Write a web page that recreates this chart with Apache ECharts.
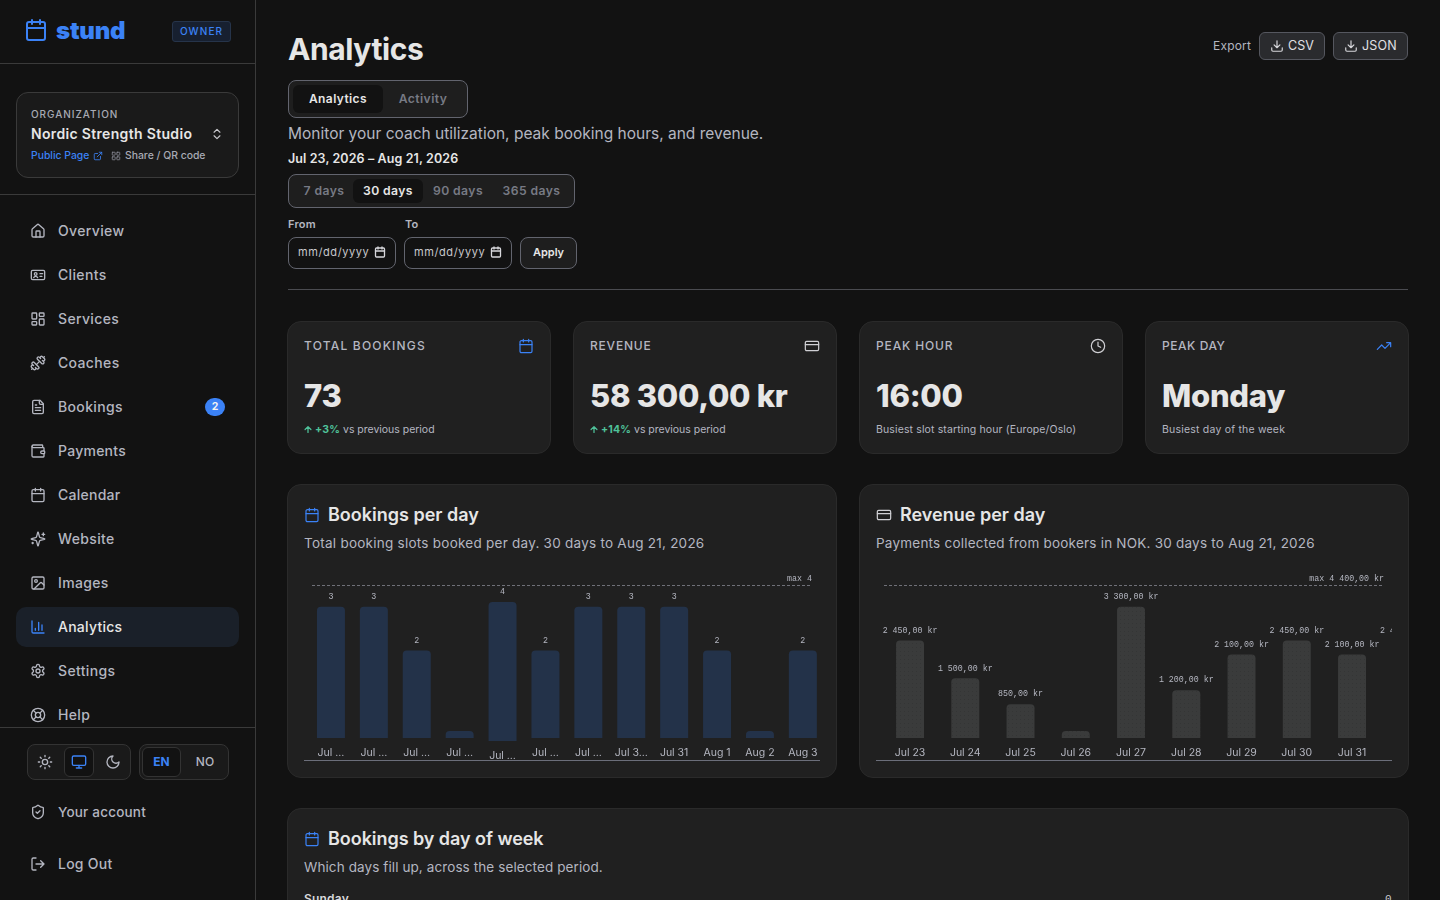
<!DOCTYPE html>
<html lang="en"><head><meta charset="utf-8"><title>Analytics</title>
<script src="https://cdn.jsdelivr.net/npm/echarts@6/dist/echarts.min.js"></script>
<style>
*{box-sizing:border-box}
html,body{margin:0;width:1440px;height:900px;overflow:hidden;background:#121212;font-family:Inter,sans-serif;color:#e8e8e8}
.b{position:absolute}
.t{position:absolute;white-space:nowrap;line-height:20px;height:20px}
svg.i{position:absolute;fill:none;stroke:currentColor;stroke-width:2;stroke-linecap:round;stroke-linejoin:round}
.nav{font-size:14px;letter-spacing:.35px;color:#b4b6c0;font-weight:500}
.card{position:absolute;background:#202020;border:1px solid #2a2a2a;border-radius:14px}
.lbl{font-size:12px;letter-spacing:1px;color:#b4b6c0;font-weight:500}
.val{font-size:31px;font-weight:800;color:#e6e6e6;line-height:36px;height:36px;letter-spacing:-.28px}
.sub{font-size:10.5px;color:#b4b6c0;letter-spacing:.06px}
.up{color:#4fc29a;font-weight:700;font-size:10.5px;letter-spacing:.2px}
.h2{font-size:18px;font-weight:600;color:#e6e6e6;letter-spacing:0}
.p{font-size:13.5px;color:#b4b6c0;letter-spacing:.25px}
.seg{color:#777a84;font-size:12.2px;font-weight:600;letter-spacing:.4px}
.chart{position:absolute;top:555px;width:516px;height:206px;border-bottom:1px solid #6b6e7a}
.chart>div{width:516px;height:205px}
</style></head><body>
<svg width="0" height="0" style="position:absolute"><defs>
<symbol id="cal" viewBox="0 0 24 24"><path d="M8 2v4M16 2v4"/><rect x="3" y="4" width="18" height="18" rx="2"/><path d="M3 10h18"/></symbol>
<symbol id="home" viewBox="0 0 24 24"><path d="M15 21v-8a1 1 0 0 0-1-1h-4a1 1 0 0 0-1 1v8"/><path d="M3 10a2 2 0 0 1 .7-1.5l7-6a2 2 0 0 1 2.6 0l7 6A2 2 0 0 1 21 10v9a2 2 0 0 1-2 2H5a2 2 0 0 1-2-2z"/></symbol>
<symbol id="id" viewBox="0 0 24 24"><rect x="2" y="5" width="20" height="14" rx="2"/><circle cx="8.5" cy="10.5" r="2"/><path d="M5.5 16c.5-1.5 1.500-2 3-2s2.500.5 3 2M15 10h4M15 14h3"/></symbol>
<symbol id="grid" viewBox="0 0 24 24"><rect x="3" y="3" width="7" height="9" rx="1"/><rect x="14" y="3" width="7" height="5" rx="1"/><rect x="14" y="12" width="7" height="9" rx="1"/><rect x="3" y="16" width="7" height="5" rx="1"/></symbol>
<symbol id="dumb" viewBox="0 0 24 24"><path d="M17.596 12.768a2 2 0 1 0 2.829-2.829l-1.768-1.767a2 2 0 0 0 2.828-2.829l-2.828-2.828a2 2 0 0 0-2.829 2.828l-1.767-1.768a2 2 0 1 0-2.829 2.829z"/><path d="m2.5 21.500 1.400-1.400M20.100 3.900l1.400-1.400"/><path d="M5.343 21.485a2 2 0 1 0 2.829-2.828l1.767 1.768a2 2 0 1 0 2.829-2.829l-6.364-6.364a2 2 0 1 0-2.829 2.829l1.768 1.767a2 2 0 0 0-2.828 2.829z"/><path d="m9.600 14.400 4.800-4.800"/></symbol>
<symbol id="file" viewBox="0 0 24 24"><path d="M15 2H6a2 2 0 0 0-2 2v16a2 2 0 0 0 2 2h12a2 2 0 0 0 2-2V7z"/><path d="M14 2v4a2 2 0 0 0 2 2h4M10 9H8M16 13H8M16 17H8"/></symbol>
<symbol id="wal" viewBox="0 0 24 24"><path d="M19 7V4a1 1 0 0 0-1-1H5a2 2 0 0 0 0 4h15a1 1 0 0 1 1 1v4h-3a2 2 0 0 0 0 4h3a1 1 0 0 0 1-1v-2a1 1 0 0 0-1-1"/><path d="M3 5v14a2 2 0 0 0 2 2h15a1 1 0 0 0 1-1v-4"/></symbol>
<symbol id="spark" viewBox="0 0 24 24"><path d="M9.900 15.500A2 2 0 0 0 8.500 14.100l-6.100-1.600a.5.5 0 0 1 0-1l6.100-1.600A2 2 0 0 0 9.900 8.500l1.600-6.100a.5.5 0 0 1 1 0l1.600 6.100a2 2 0 0 0 1.400 1.400l6.100 1.600a.5.5 0 0 1 0 1l-6.100 1.600a2 2 0 0 0-1.400 1.400l-1.600 6.100a.5.5 0 0 1-1 0z"/><path d="M20 3v4M22 5h-4M4 17v2M5 18H3"/></symbol>
<symbol id="img" viewBox="0 0 24 24"><rect x="3" y="3" width="18" height="18" rx="2"/><circle cx="9" cy="9" r="2"/><path d="m21 15-3.100-3.100a2 2 0 0 0-2.800 0L6 21"/></symbol>
<symbol id="bars" viewBox="0 0 24 24"><path d="M3 3v16a2 2 0 0 0 2 2h16M18 17V9M13 17V5M8 17v-3"/></symbol>
<symbol id="gear" viewBox="0 0 24 24"><path d="M12.200 2h-.4a2 2 0 0 0-2 2v.2a2 2 0 0 1-1 1.700l-.4.300a2 2 0 0 1-2 0l-.2-.1a2 2 0 0 0-2.700.7l-.2.400a2 2 0 0 0 .7 2.700l.2.100a2 2 0 0 1 1 1.700v.5a2 2 0 0 1-1 1.700l-.2.100a2 2 0 0 0-.7 2.700l.2.400a2 2 0 0 0 2.700.7l.2-.1a2 2 0 0 1 2 0l.4.300a2 2 0 0 1 1 1.700v.2a2 2 0 0 0 2 2h.4a2 2 0 0 0 2-2v-.2a2 2 0 0 1 1-1.700l.4-.3a2 2 0 0 1 2 0l.2.100a2 2 0 0 0 2.700-.7l.2-.4a2 2 0 0 0-.7-2.700l-.2-.1a2 2 0 0 1-1-1.700v-.5a2 2 0 0 1 1-1.700l.2-.1a2 2 0 0 0 .7-2.700l-.2-.4a2 2 0 0 0-2.700-.7l-.2.100a2 2 0 0 1-2 0l-.4-.3a2 2 0 0 1-1-1.700V4a2 2 0 0 0-2-2z"/><circle cx="12" cy="12" r="3"/></symbol>
<symbol id="help" viewBox="0 0 24 24"><circle cx="12" cy="12" r="10"/><circle cx="12" cy="12" r="4"/><path d="m4.900 4.900 4.300 4.300M14.800 14.800l4.300 4.300M14.800 9.200l4.300-4.300M4.900 19.100l4.300-4.300"/></symbol>
<symbol id="sun" viewBox="0 0 24 24"><circle cx="12" cy="12" r="4"/><path d="M12 2v2M12 20v2M4.900 4.900l1.400 1.400M17.700 17.700l1.400 1.400M2 12h2M20 12h2M6.300 17.700l-1.400 1.400M19.100 4.900l-1.400 1.400"/></symbol>
<symbol id="mon" viewBox="0 0 24 24"><rect x="2" y="3" width="20" height="14" rx="2"/><path d="M8 21h8M12 17v4"/></symbol>
<symbol id="moon" viewBox="0 0 24 24"><path d="M12 3a6 6 0 0 0 9 9 9 9 0 1 1-9-9Z"/></symbol>
<symbol id="shield" viewBox="0 0 24 24"><path d="M20 13c0 5-3.500 7.500-7.700 9a1 1 0 0 1-.6 0C7.500 20.500 4 18 4 13V6a1 1 0 0 1 1-1c2 0 4.500-1.200 6.200-2.700a1.200 1.200 0 0 1 1.600 0C14.500 3.800 17 5 19 5a1 1 0 0 1 1 1z"/><path d="m9 12 2 2 4-4"/></symbol>
<symbol id="out" viewBox="0 0 24 24"><path d="M9 21H5a2 2 0 0 1-2-2V5a2 2 0 0 1 2-2h4M16 17l5-5-5-5M21 12H9"/></symbol>
<symbol id="card" viewBox="0 0 24 24"><rect x="2" y="5" width="20" height="14" rx="2"/><path d="M2 10h20"/></symbol>
<symbol id="clock" viewBox="0 0 24 24"><circle cx="12" cy="12" r="10"/><path d="M12 6v6l4 2"/></symbol>
<symbol id="trend" viewBox="0 0 24 24"><path d="M22 7l-8.500 8.500-5-5L2 17M16 7h6v6"/></symbol>
<symbol id="dl" viewBox="0 0 24 24"><path d="M12 15V3M21 15v4a2 2 0 0 1-2 2H5a2 2 0 0 1-2-2v-4M7 10l5 5 5-5"/></symbol>
<symbol id="ext" viewBox="0 0 24 24"><path d="M15 3h6v6M10 14 21 3M18 13v6a2 2 0 0 1-2 2H5a2 2 0 0 1-2-2V8a2 2 0 0 1 2-2h6"/></symbol>
<symbol id="qr" viewBox="0 0 24 24"><rect x="3" y="3" width="7" height="7" rx="1"/><rect x="14" y="3" width="7" height="7" rx="1"/><rect x="3" y="14" width="7" height="7" rx="1"/><rect x="14" y="14" width="7" height="7" rx="1"/></symbol>
<symbol id="ud" viewBox="0 0 24 24"><path d="m7 15 5 5 5-5M7 9l5-5 5 5"/></symbol>
<symbol id="arr" viewBox="0 0 24 24"><path d="m5 12 7-7 7 7M12 19V5"/></symbol>
</defs></svg>

<!-- sidebar -->
<div class="b" style="left:0;top:0;width:256px;height:900px;border-right:1px solid #3a3a3a;background:#121212"></div>
<svg class="i" style="left:24px;top:18px;width:24px;height:24px;color:#3b82f6;stroke-width:2"><use href="#cal"/></svg>
<div class="t" style="left:56px;top:21px;font-size:24px;font-weight:900;color:#3b82f6;letter-spacing:-.2px">stund</div>
<div class="b" style="left:172px;top:21px;width:59px;height:21px;background:#172030;border:1px solid #26344a;border-radius:3px"></div>
<div class="t" style="left:172px;top:21px;width:59px;text-align:center;font-size:10px;font-weight:500;letter-spacing:1.1px;color:#3b82f6">OWNER</div>
<div class="b" style="left:0;top:63px;width:255px;height:1px;background:#3a3a3a"></div>
<div class="b" style="left:16px;top:92px;width:223px;height:86px;background:#1a1a1a;border:1px solid #3a3a3a;border-radius:12px"></div>
<div class="t" style="left:31px;top:104px;font-size:10px;letter-spacing:.95px;color:#a8aab4;font-weight:500">ORGANIZATION</div>
<div class="t" style="left:31px;top:124px;font-size:14px;font-weight:600;letter-spacing:.33px;color:#e6e6e6">Nordic Strength Studio</div>
<svg class="i" style="left:210px;top:127px;width:14px;height:14px;color:#c8c8cc"><use href="#ud"/></svg>
<div class="t" style="left:31px;top:146px;font-size:10.4px;color:#3b82f6;font-weight:500">Public Page</div>
<svg class="i" style="left:93px;top:151px;width:10px;height:10px;color:#3b82f6"><use href="#ext"/></svg>
<svg class="i" style="left:111px;top:151px;width:10px;height:10px;color:#8a8c96"><use href="#qr"/></svg>
<div class="t" style="left:125px;top:146px;font-size:10.4px;color:#a8aab4;font-weight:500">Share / QR code</div>
<div class="b" style="left:0;top:194px;width:255px;height:1px;background:#3a3a3a"></div>

<div class="b" style="left:16px;top:607px;width:223px;height:40px;background:#1a2029;border-radius:10px"></div>
<svg class="i nav" style="left:30px;top:223px;width:16px;height:16px"><use href="#home"/></svg><div class="t nav" style="left:58px;top:221px">Overview</div>
<svg class="i nav" style="left:30px;top:267px;width:16px;height:16px"><use href="#id"/></svg><div class="t nav" style="left:58px;top:265px">Clients</div>
<svg class="i nav" style="left:30px;top:311px;width:16px;height:16px"><use href="#grid"/></svg><div class="t nav" style="left:58px;top:309px">Services</div>
<svg class="i nav" style="left:30px;top:355px;width:16px;height:16px"><use href="#dumb"/></svg><div class="t nav" style="left:58px;top:353px">Coaches</div>
<svg class="i nav" style="left:30px;top:399px;width:16px;height:16px"><use href="#file"/></svg><div class="t nav" style="left:58px;top:397px">Bookings</div>
<div class="b" style="left:205px;top:398px;width:20px;height:18px;border-radius:9px;background:#3b82f6"></div><div class="t" style="left:205px;top:397px;width:20px;text-align:center;font-size:10.5px;font-weight:700;color:#f2f2f2">2</div>
<svg class="i nav" style="left:30px;top:443px;width:16px;height:16px"><use href="#wal"/></svg><div class="t nav" style="left:58px;top:441px;letter-spacing:.25px">Payments</div>
<svg class="i nav" style="left:30px;top:487px;width:16px;height:16px"><use href="#cal"/></svg><div class="t nav" style="left:58px;top:485px;letter-spacing:.25px">Calendar</div>
<svg class="i nav" style="left:30px;top:531px;width:16px;height:16px"><use href="#spark"/></svg><div class="t nav" style="left:58px;top:529px">Website</div>
<svg class="i nav" style="left:30px;top:575px;width:16px;height:16px"><use href="#img"/></svg><div class="t nav" style="left:58px;top:573px">Images</div>
<svg class="i nav" style="left:30px;top:619px;width:16px;height:16px;color:#3b82f6"><use href="#bars"/></svg><div class="t nav" style="left:58px;top:617px;color:#e6e6e6;letter-spacing:.25px">Analytics</div>
<svg class="i nav" style="left:30px;top:663px;width:16px;height:16px"><use href="#gear"/></svg><div class="t nav" style="left:58px;top:661px">Settings</div>
<svg class="i nav" style="left:30px;top:707px;width:16px;height:16px"><use href="#help"/></svg><div class="t nav" style="left:58px;top:705px">Help</div>

<div class="b" style="left:0;top:727px;width:255px;height:1px;background:#3a3a3a"></div>
<div class="b" style="left:27px;top:744px;width:104px;height:36px;background:#1a1a1a;border:1px solid #333;border-radius:8px"></div>
<div class="b" style="left:64px;top:747px;width:30px;height:30px;background:#121212;border:1px solid #333;border-radius:6px"></div>
<svg class="i nav" style="left:37px;top:754px;width:16px;height:16px"><use href="#sun"/></svg>
<svg class="i" style="left:71px;top:754px;width:16px;height:16px;color:#3b82f6"><use href="#mon"/></svg>
<svg class="i nav" style="left:105px;top:754px;width:16px;height:16px"><use href="#moon"/></svg>
<div class="b" style="left:139px;top:744px;width:90px;height:36px;background:#1a1a1a;border:1px solid #333;border-radius:8px"></div>
<div class="b" style="left:142px;top:747px;width:39px;height:30px;background:#121212;border:1px solid #333;border-radius:6px"></div>
<div class="t" style="left:142px;top:752px;width:39px;text-align:center;font-size:12px;font-weight:700;color:#3b82f6">EN</div>
<div class="t" style="left:185px;top:752px;width:40px;text-align:center;font-size:12px;font-weight:500;color:#b4b6c0">NO</div>
<svg class="i nav" style="left:30px;top:804px;width:16px;height:16px"><use href="#shield"/></svg><div class="t nav" style="left:58px;top:802px;font-size:13.5px;letter-spacing:.2px">Your account</div>
<svg class="i nav" style="left:30px;top:856px;width:16px;height:16px"><use href="#out"/></svg><div class="t nav" style="left:58px;top:854px;letter-spacing:.25px">Log Out</div>

<!-- header -->
<div class="t" style="left:288px;top:39px;font-size:30px;font-weight:700;color:#e6e6e6;letter-spacing:-.4px">Analytics</div>
<div class="t" style="left:1213px;top:36px;font-size:12px;color:#b4b6c0;letter-spacing:.2px">Export</div>
<div class="b" style="left:1259px;top:32px;width:66px;height:28px;background:#2a2b2e;border:1px solid #55575f;border-radius:6px"></div>
<svg class="i" style="left:1270px;top:39px;width:14px;height:14px;color:#d8d8dc"><use href="#dl"/></svg>
<div class="t" style="left:1288px;top:36px;font-size:12.5px;font-weight:400;color:#e0e0e4">CSV</div>
<div class="b" style="left:1333px;top:32px;width:75px;height:28px;background:#2a2b2e;border:1px solid #55575f;border-radius:6px"></div>
<svg class="i" style="left:1344px;top:39px;width:14px;height:14px;color:#d8d8dc"><use href="#dl"/></svg>
<div class="t" style="left:1362px;top:36px;font-size:12.5px;font-weight:400;color:#e0e0e4;letter-spacing:.2px">JSON</div>

<div class="b" style="left:288px;top:80px;width:180px;height:38px;background:#1e1e1e;border:1px solid #62646e;border-radius:8px"></div>
<div class="b" style="left:293px;top:85px;width:90px;height:28px;background:#121212;border-radius:6px"></div>
<div class="t" style="left:293px;top:89px;width:90px;text-align:center;font-size:12px;font-weight:600;color:#e6e6e6;letter-spacing:.4px">Analytics</div>
<div class="t seg" style="left:383px;top:89px;width:80px;text-align:center">Activity</div>
<div class="t" style="left:288px;top:124px;font-size:15.5px;color:#b4b6c0">Monitor your coach utilization, peak booking hours, and revenue.</div>
<div class="t" style="left:288px;top:149px;font-size:12.5px;font-weight:600;color:#e6e6e6;letter-spacing:.1px">Jul 23, 2026 – Aug 21, 2026</div>
<div class="b" style="left:288px;top:174px;width:287px;height:34px;background:#1e1e1e;border:1px solid #62646e;border-radius:8px"></div>
<div class="b" style="left:353px;top:179px;width:70px;height:24px;background:#121212;border-radius:6px"></div>
<div class="t seg" style="left:294px;top:181px;width:60px;text-align:center">7 days</div>
<div class="t seg" style="left:353px;top:181px;width:70px;text-align:center;color:#e6e6e6">30 days</div>
<div class="t seg" style="left:423px;top:181px;width:70px;text-align:center">90 days</div>
<div class="t seg" style="left:493px;top:181px;width:77px;text-align:center">365 days</div>
<div class="t" style="left:288px;top:214px;font-size:11px;font-weight:600;color:#b4b6c0;letter-spacing:.2px">From</div>
<div class="t" style="left:405px;top:214px;font-size:11px;font-weight:600;color:#b4b6c0;letter-spacing:.2px">To</div>
<div class="b" style="left:288px;top:237px;width:108px;height:32px;background:#121212;border:1px solid #62646e;border-radius:8px"></div>
<div class="t" style="left:298px;top:242px;font-size:11px;color:#c8c8cc;letter-spacing:.6px">mm/dd/yyyy</div>
<svg class="i" style="left:374px;top:246px;width:12px;height:12px;color:#d8d8dc;stroke-width:2.6"><use href="#cal"/></svg>
<div class="b" style="left:404px;top:237px;width:108px;height:32px;background:#121212;border:1px solid #62646e;border-radius:8px"></div>
<div class="t" style="left:414px;top:242px;font-size:11px;color:#c8c8cc;letter-spacing:.6px">mm/dd/yyyy</div>
<svg class="i" style="left:490px;top:246px;width:12px;height:12px;color:#d8d8dc;stroke-width:2.6"><use href="#cal"/></svg>
<div class="b" style="left:520px;top:237px;width:57px;height:32px;background:#1e1e1e;border:1px solid #62646e;border-radius:8px"></div>
<div class="t" style="left:520px;top:242px;width:57px;text-align:center;font-size:11px;font-weight:600;color:#e6e6e6">Apply</div>
<div class="b" style="left:288px;top:289px;width:1120px;height:1px;background:#4a4b50"></div>

<!-- stat cards -->
<div class="card" style="left:287px;top:321px;width:264px;height:133px"></div>
<div class="card" style="left:573px;top:321px;width:264px;height:133px"></div>
<div class="card" style="left:859px;top:321px;width:264px;height:133px"></div>
<div class="card" style="left:1145px;top:321px;width:264px;height:133px"></div>
<div class="t lbl" style="left:304px;top:336px;letter-spacing:1.2px">TOTAL BOOKINGS</div>
<div class="t lbl" style="left:590px;top:336px;letter-spacing:.8px">REVENUE</div>
<div class="t lbl" style="left:876px;top:336px;letter-spacing:.85px">PEAK HOUR</div>
<div class="t lbl" style="left:1162px;top:336px;letter-spacing:.55px">PEAK DAY</div>
<svg class="i" style="left:518px;top:338px;width:16px;height:16px;color:#3b82f6;stroke-width:1.8"><use href="#cal"/></svg>
<svg class="i" style="left:804px;top:338px;width:16px;height:16px;color:#d0d0d4;stroke-width:1.8"><use href="#card"/></svg>
<svg class="i" style="left:1090px;top:338px;width:16px;height:16px;color:#d0d0d4;stroke-width:1.8"><use href="#clock"/></svg>
<svg class="i" style="left:1376px;top:338px;width:16px;height:16px;color:#3b82f6;stroke-width:1.8"><use href="#trend"/></svg>
<div class="t val" style="left:304px;top:378px">73</div>
<div class="t val" style="left:590px;top:378px">58 300,00 kr</div>
<div class="t val" style="left:876px;top:378px">16:00</div>
<div class="t val" style="left:1162px;top:378px">Monday</div>
<svg class="i" style="left:303px;top:424px;width:10px;height:11px;color:#4fc29a;stroke-width:3"><use href="#arr"/></svg>
<div class="t up" style="left:315px;top:420px">+3%</div><div class="t sub" style="left:343px;top:420px;letter-spacing:-.02px">vs previous period</div>
<svg class="i" style="left:589px;top:424px;width:10px;height:11px;color:#4fc29a;stroke-width:3"><use href="#arr"/></svg>
<div class="t up" style="left:601px;top:420px">+14%</div><div class="t sub" style="left:634px;top:420px;letter-spacing:-.02px">vs previous period</div>
<div class="t sub" style="left:876px;top:420px;letter-spacing:.13px">Busiest slot starting hour (Europe/Oslo)</div>
<div class="t sub" style="left:1162px;top:420px;letter-spacing:.2px">Busiest day of the week</div>

<!-- chart cards -->
<div class="card" style="left:287px;top:484px;width:550px;height:294px"></div>
<div class="card" style="left:859px;top:484px;width:550px;height:294px"></div>
<div class="card" style="left:287px;top:808px;width:1122px;height:110px"></div>
<svg class="i" style="left:304px;top:507px;width:16px;height:16px;color:#3b82f6;stroke-width:1.8"><use href="#cal"/></svg>
<div class="t h2" style="left:328px;top:505px">Bookings per day</div>
<div class="t p" style="left:304px;top:533px">Total booking slots booked per day. 30 days to Aug 21, 2026</div>
<svg class="i" style="left:876px;top:507px;width:16px;height:16px;color:#d0d0d4;stroke-width:1.8"><use href="#card"/></svg>
<div class="t h2" style="left:900px;top:505px">Revenue per day</div>
<div class="t p" style="left:876px;top:533px;letter-spacing:.22px">Payments collected from bookers in NOK. 30 days to Aug 21, 2026</div>
<svg class="i" style="left:304px;top:831px;width:16px;height:16px;color:#3b82f6;stroke-width:1.8"><use href="#cal"/></svg>
<div class="t h2" style="left:328px;top:829px;letter-spacing:-.05px">Bookings by day of week</div>
<div class="t p" style="left:304px;top:857px;letter-spacing:.1px">Which days fill up, across the selected period.</div>
<div class="t" style="left:304px;top:889px;font-size:12px;font-weight:600;color:#d8d8dc;letter-spacing:.2px">Sunday</div>
<div class="t" style="left:1385px;top:889px;font-size:11px;font-family:'Liberation Mono',monospace;color:#c8c8cc">0</div>

<div class="chart" style="left:304px"><div id="bookingsChart"></div></div>
<div class="chart" style="left:876px"><div id="revenueChart"></div></div>

<script>
var bookingLabels = ['Jul …','Jul …','Jul …','Jul …','Jul …','Jul …','Jul …','Jul 3…','Jul 31','Aug 1','Aug 2','Aug 3'];
var bookingValues = [3,3,2,0,4,2,3,3,3,2,0,2];
var bookingMax = 4;
var revenueLabels = ['Jul 23','Jul 24','Jul 25','Jul 26','Jul 27','Jul 28','Jul 29','Jul 30','Jul 31','Aug 1'];
var revenueValues = [2450,1500,850,0,3300,1200,2100,2450,2100,2450];
var revenueMax = 4400;

var MONO = "'Liberation Mono', monospace";
var VAL = '#b4b6c0', TICK = '#b4b6c0';

function kr(v){
  return String(Math.floor(v)).replace(/\B(?=(\d{3})+$)/g, '\u00a0') + ',00\u00a0kr';
}
function valueLabel(fmt){
  return {show:true, position:'top', distance:6, fontFamily:MONO, fontSize:8.3, color:VAL,
    formatter:function(p){ return p.value ? fmt(p.value) : ''; }};
}
function gridBox(left, width, top, height){
  return {left:left, width:width, top:top, height:height, outerBoundsMode:'none', containLabel:false};
}
function yAxisOf(grid, maxV){ return {type:'value', gridIndex:grid, show:false, min:0, max:maxV}; }
function xAxisOf(labels, grid, formatter){
  return {type:'category', gridIndex:grid, data:labels,
    axisLine:{show:false}, axisTick:{show:false}, splitLine:{show:false},
    axisLabel:{interval:0, margin:9, fontFamily:'Inter', fontSize:10.5, color:TICK, formatter:formatter, hideOverlap:false}};
}
function maxSeries(idx, maxV, text){
  return {type:'line', xAxisIndex:idx, yAxisIndex:idx, data:[], silent:true,
    markLine:{silent:true, symbol:'none', animation:false,
      lineStyle:{type:[3,2], width:1, color:'#6f7078'},
      label:{position:'insideEndTop', distance:[0,3], formatter:text, fontFamily:MONO, fontSize:8.3, color:VAL},
      data:[{yAxis:maxV}]}};
}

/* Bookings: the tallest column is squeezed by its container in the reference,
   so it gets its own scale (grid 1) sitting 3px lower than the others. */
var peakIdx = bookingValues.indexOf(Math.max.apply(null, bookingValues));
var bStyle = {color:'#233249', borderRadius:[4,4,0,0]};
echarts.init(document.getElementById('bookingsChart')).setOption({
  animation:false,
  grid:[gridBox(5.5,514.8,8,175), gridBox(5.5,514.8,47,139), gridBox(8,500,30.5,152.5)],
  xAxis:[
    xAxisOf(bookingLabels, 0, function(v,i){ return i===peakIdx ? '' : v; }),
    xAxisOf(bookingLabels, 1, function(v,i){ return i===peakIdx ? v : ''; }),
    {type:'value', gridIndex:2, show:false, min:0, max:1}
  ],
  yAxis:[yAxisOf(0,bookingMax), yAxisOf(1,bookingMax), yAxisOf(2,bookingMax)],
  series:[
    {type:'bar', xAxisIndex:0, yAxisIndex:0, barWidth:28, barMinHeight:7, itemStyle:bStyle, silent:true,
     label:valueLabel(String), data:bookingValues.map(function(v,i){ return i===peakIdx ? null : v; })},
    {type:'bar', xAxisIndex:1, yAxisIndex:1, barWidth:28, itemStyle:bStyle, silent:true,
     label:valueLabel(String), data:bookingValues.map(function(v,i){ return i===peakIdx ? v : null; })},
    maxSeries(2, bookingMax, 'max ' + bookingMax)
  ]
});

echarts.init(document.getElementById('revenueChart')).setOption({
  animation:false,
  grid:[gridBox(6.4,552.5,8,175), gridBox(8,500,30.5,152.5)],
  xAxis:[xAxisOf(revenueLabels, 0), {type:'value', gridIndex:1, show:false, min:0, max:1}],
  yAxis:[yAxisOf(0,revenueMax), yAxisOf(1,revenueMax)],
  series:[
    {type:'bar', xAxisIndex:0, yAxisIndex:0, barWidth:28, barMinHeight:7, silent:true,
     itemStyle:{color:'#3a3b3b', borderRadius:[4,4,0,0],
       decal:{symbol:'rect', symbolSize:1, dashArrayX:[1,3], dashArrayY:[1,3], color:'#343535'}},
     label:valueLabel(kr), data:revenueValues},
    maxSeries(1, revenueMax, 'max ' + kr(revenueMax))
  ]
});
</script>
</body></html>
